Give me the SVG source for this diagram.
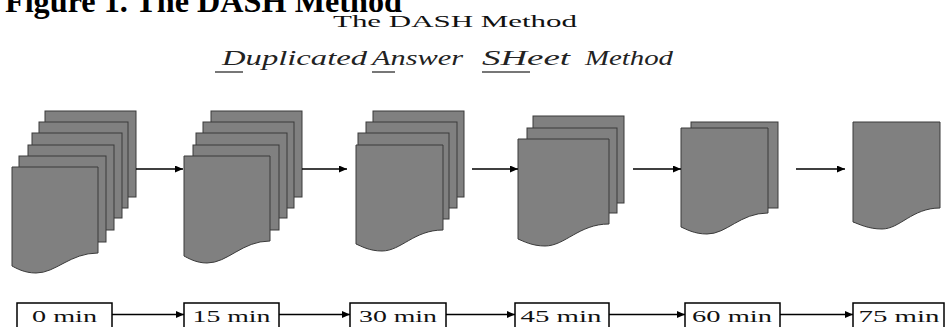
<svg xmlns="http://www.w3.org/2000/svg" width="946" height="327" viewBox="0 0 946 327">
<style>
.sh{fill:#808080;stroke:#3a3a3a;stroke-width:1}
.ln{stroke:#000;stroke-width:1.6;fill:none;marker-end:url(#ah)}
.bx{fill:#fff;stroke:#000;stroke-width:1.5}
.lb{font-family:"Liberation Serif","DejaVu Serif",serif;font-size:17px;fill:#111;text-anchor:middle}
.sc{font-family:"Liberation Serif","DejaVu Serif",serif;font-style:italic;font-size:21px;fill:#222}
.ul{stroke:#777;stroke-width:2}
</style>
<defs>
<marker id="ah" markerUnits="userSpaceOnUse" markerWidth="8" markerHeight="7" refX="8" refY="3.5" orient="auto">
<path d="M0,0 L8,3.5 L0,7 Z" fill="#000"/>
</marker>
</defs>
<rect width="946" height="327" fill="#fff"/>
<g id="titles">
<text x="5" y="12" font-family="Liberation Serif, serif" font-weight="bold" font-size="31" textLength="397" lengthAdjust="spacingAndGlyphs">Figure 1. The DASH Method</text>
<text x="333" y="27" font-family="Liberation Serif, serif" font-size="16" fill="#111" textLength="244" lengthAdjust="spacingAndGlyphs">The DASH Method</text>
<text class="sc" x="222" y="65" textLength="145" lengthAdjust="spacingAndGlyphs">Duplicated</text>
<text class="sc" x="372" y="65" textLength="91" lengthAdjust="spacingAndGlyphs">Answer</text>
<text class="sc" x="482" y="65" textLength="88" lengthAdjust="spacingAndGlyphs">SHeet</text>
<text class="sc" x="585" y="65" textLength="88" lengthAdjust="spacingAndGlyphs">Method</text>
<line class="ul" x1="215" y1="72" x2="243" y2="72"/>
<line class="ul" x1="372" y1="72" x2="395" y2="72"/>
<line class="ul" x1="482" y1="72" x2="530" y2="72"/>
</g>
<g id="stack-0">
<rect class="sh" x="45" y="111" width="91" height="86"/>
<rect class="sh" x="39" y="122" width="89" height="86"/>
<rect class="sh" x="32" y="133" width="90" height="85"/>
<rect class="sh" x="28" y="145" width="86" height="85"/>
<rect class="sh" x="19" y="156" width="87" height="86"/>
<path class="sh" d="M12,167 H98 V253 C70,253 56,273 36,273 C24,273 16,268 12,266 Z"/>
</g>
<g id="stack-15">
<rect class="sh" x="211" y="111" width="91" height="86"/>
<rect class="sh" x="203" y="122" width="91" height="86"/>
<rect class="sh" x="196" y="133" width="91" height="85"/>
<rect class="sh" x="193" y="145" width="86" height="85"/>
<path class="sh" d="M184,156 H270 V241 C242,241 228,263 207,263 C196,263 188,258 184,256 Z"/>
</g>
<g id="stack-30">
<rect class="sh" x="373" y="111" width="91" height="86"/>
<rect class="sh" x="366" y="122" width="91" height="86"/>
<rect class="sh" x="358" y="133" width="91" height="86"/>
<path class="sh" d="M356,145 H443 V230 C414,230 401,251 382,251 C369,251 361,246 356,244 Z"/>
</g>
<g id="stack-45">
<rect class="sh" x="533" y="116" width="91" height="87"/>
<rect class="sh" x="527" y="128" width="90" height="85"/>
<path class="sh" d="M518,139 H609 V224 C579,224 565,246 545,246 C532,246 523,241 518,239 Z"/>
</g>
<g id="stack-60">
<rect class="sh" x="691" y="122" width="87" height="86"/>
<path class="sh" d="M681,128 H768 V213 C740,213 727,234 707,234 C694,234 686,229 681,227 Z"/>
</g>
<g id="stack-75">
<path class="sh" d="M853,122 H940 V208 C912,208 900,229 882,229 C868,229 859,224 853,222 Z"/>
</g>
<g id="box-0"><rect class="bx" x="17" y="303" width="95" height="32"/><text class="lb" x="64.5" y="322" textLength="65" lengthAdjust="spacingAndGlyphs">0 min</text></g>
<g id="box-15"><rect class="bx" x="184" y="303" width="95" height="32"/><text class="lb" x="231.5" y="322" textLength="78" lengthAdjust="spacingAndGlyphs">15 min</text></g>
<g id="box-30"><rect class="bx" x="350" y="303" width="96" height="32"/><text class="lb" x="398" y="322" textLength="78" lengthAdjust="spacingAndGlyphs">30 min</text></g>
<g id="box-45"><rect class="bx" x="515" y="303" width="94" height="32"/><text class="lb" x="561" y="322" textLength="81" lengthAdjust="spacingAndGlyphs">45 min</text></g>
<g id="box-60"><rect class="bx" x="685" y="303" width="95" height="32"/><text class="lb" x="732" y="322" textLength="80" lengthAdjust="spacingAndGlyphs">60 min</text></g>
<g id="box-75"><rect class="bx" x="853" y="303" width="91" height="32"/><text class="lb" x="899" y="322" textLength="81" lengthAdjust="spacingAndGlyphs">75 min</text></g>
<g id="connectors">
<line class="ln" x1="136" y1="169" x2="183" y2="169"/>
<line class="ln" x1="302" y1="169" x2="347" y2="169"/>
<line class="ln" x1="472" y1="169" x2="518" y2="169"/>
<line class="ln" x1="633" y1="169" x2="681" y2="169"/>
<line class="ln" x1="796" y1="169" x2="845" y2="169"/>
<line class="ln" x1="112" y1="314.5" x2="184" y2="314.5"/>
<line class="ln" x1="279" y1="314.5" x2="350" y2="314.5"/>
<line class="ln" x1="446" y1="314.5" x2="515" y2="314.5"/>
<line class="ln" x1="609" y1="314.5" x2="685" y2="314.5"/>
<line class="ln" x1="780" y1="314.5" x2="853" y2="314.5"/>
</g>
</svg>
